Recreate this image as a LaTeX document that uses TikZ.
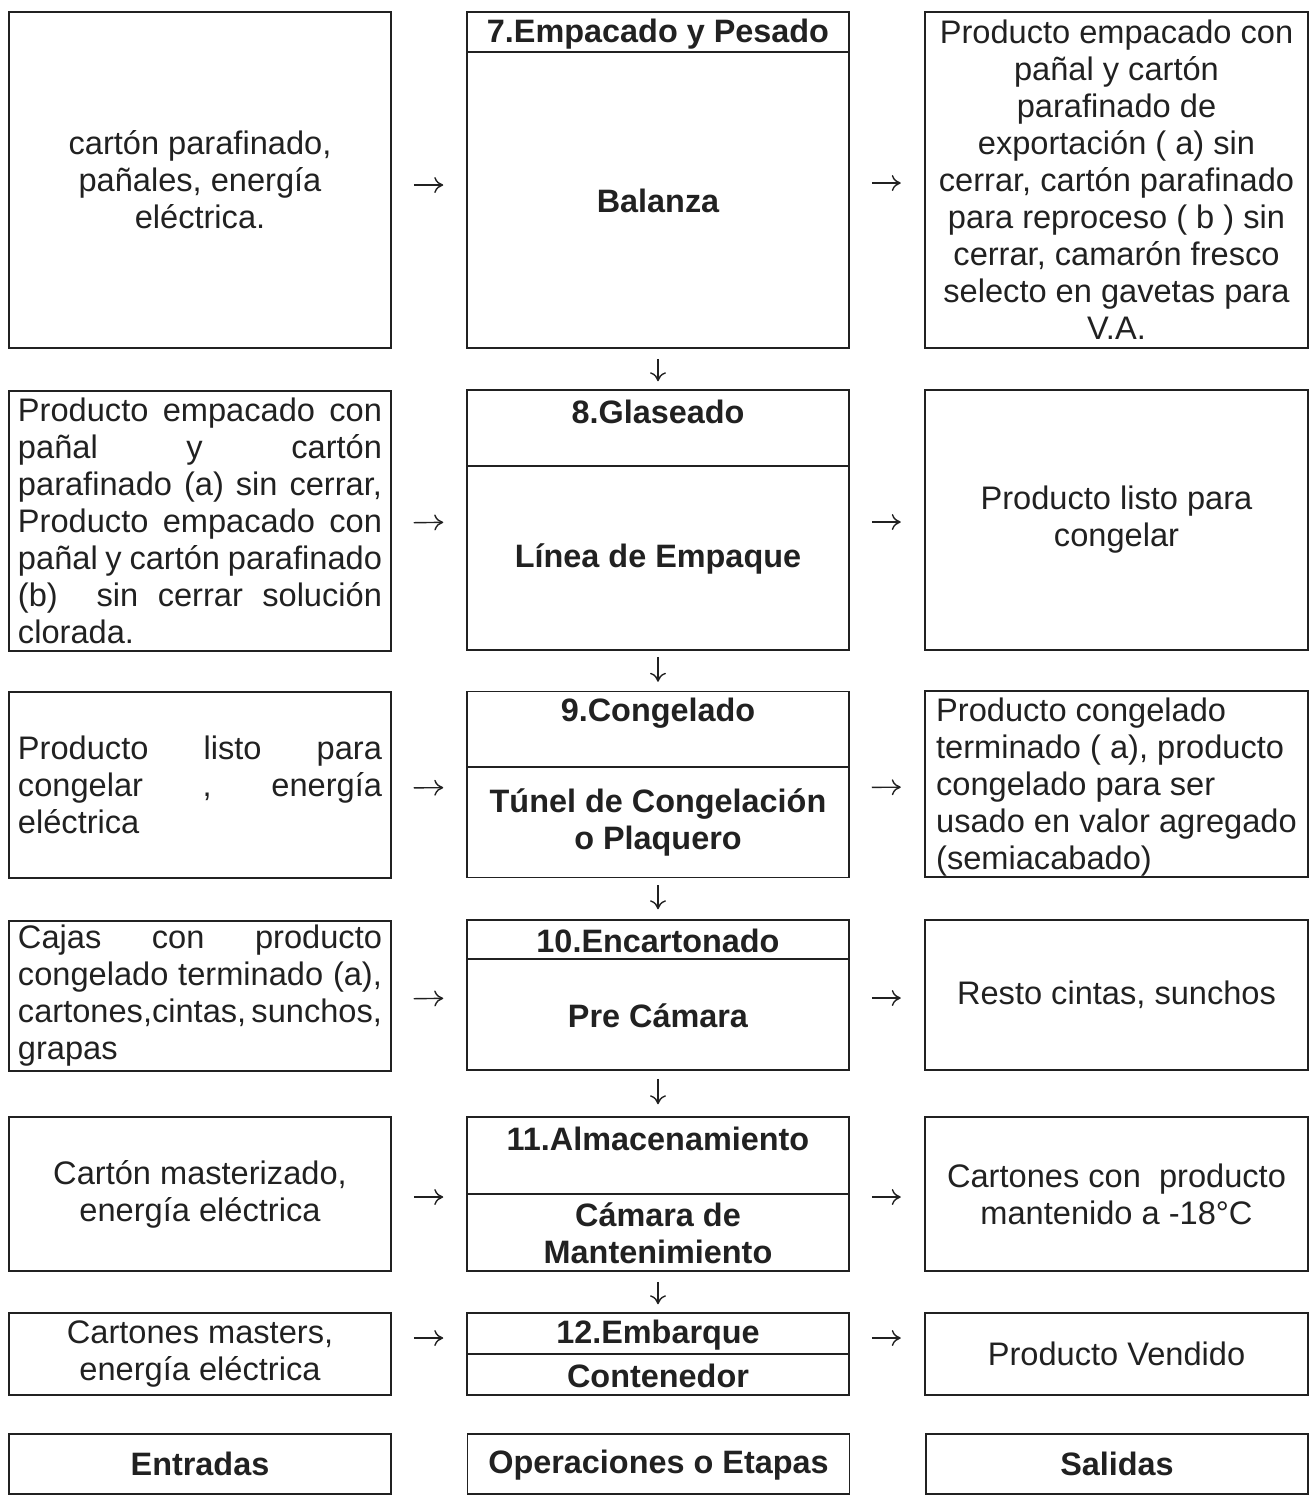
\documentclass[tikz,border=0pt]{standalone}
\usepackage{fontspec}
\setmainfont{Liberation Sans}
\usetikzlibrary{arrows.meta}
\definecolor{ink}{gray}{0.13}
% one fully justified line of the input column
\newcommand\spreadline[1]{\hbox to 182pt{#1}}
\begin{document}
\begin{tikzpicture}[x=0.5pt,y=-0.5pt,
  every node/.style={font=\fontsize{16.3pt}{18.5pt}\selectfont, text=ink},
  inbox/.style={draw=ink, line width=0.75pt, rectangle, inner sep=0pt, minimum width=191pt},
  stagebox/.style={draw=ink, line width=0.75pt, rectangle, inner sep=0pt, minimum width=191pt},
  outbox/.style={draw=ink, line width=1.25pt, rectangle, inner sep=0pt, minimum width=191.5pt},
  ctext/.style={align=center},
  ltext/.style={align=left},
  title/.style={font=\fontsize{16.2pt}{18.5pt}\selectfont\bfseries, align=center, inner sep=0pt},
  harrow/.style={draw=ink, line width=0.7pt, -{Computer Modern Rightarrow[length=4.5pt,width=8pt]},
                 shorten <=11pt, shorten >=11.5pt},
  varrow/.style={draw=ink, line width=0.7pt, -{Computer Modern Rightarrow[length=4.5pt,width=8pt]}}
]
\useasboundingbox (0,0) rectangle (1310,1496);

% ---------- row 1: 7.Empacado y Pesado ----------
\node[inbox, minimum height=168pt, ctext] (l1) at (200,180)
  {cartón parafinado,\\pañales, energía\\eléctrica.};
\node[stagebox, minimum height=168pt] (s1) at (658,180) {};
\draw[ink, line width=0.75pt] (s1.west |- 0,52) -- (s1.east |- 0,52);
\node[title] (t1) at (658,34) {7.Empacado y Pesado};
\node[title] (b1) at (658,201) {Balanza};
\node[outbox, minimum height=168pt, ctext] (r1) at (1116.5,180)
  {Producto empacado con\\pañal y cartón\\parafinado de\\exportación ( a) sin\\cerrar, cartón parafinado\\para reproceso ( b ) sin\\cerrar, camarón fresco\\selecto en gavetas para\\V.A.};

% ---------- row 2: 8.Glaseado ----------
\node[inbox, minimum height=130pt, ltext] (l2) at (200,521)
  {\spreadline{Producto\hfill empacado\hfill con}\\
   \spreadline{pañal\hfill y\hfill cartón}\\
   \spreadline{parafinado\hfill (a)\hfill sin\hfill cerrar,}\\
   \spreadline{Producto\hfill empacado\hfill con}\\
   \spreadline{pañal\hfill y\hfill cartón\hfill parafinado}\\
   \spreadline{(b)\hfill\hfill sin\hfill cerrar\hfill solución}\\
   clorada.};
\node[stagebox, minimum height=130pt] (s2) at (658,520) {};
\draw[ink, line width=0.75pt] (s2.west |- 0,466) -- (s2.east |- 0,466);
\node[title] (t2) at (658,412) {8.Glaseado};
\node[title] (b2) at (658,559) {Línea de Empaque};
\node[outbox, minimum height=130pt, ctext] (r2) at (1116.5,520)
  {Producto listo para\\congelar};

% ---------- row 3: 9.Congelado ----------
\node[inbox, minimum height=93pt, ltext] (l3) at (200,785)
  {\spreadline{Producto\hfill listo\hfill para}\\
   \spreadline{congelar\hfill ,\hfill energía}\\
   eléctrica};
\node[stagebox, minimum height=93pt] (s3) at (658,784.5) {};
\draw[ink, line width=0.75pt] (s3.west |- 0,767) -- (s3.east |- 0,767);
\node[title] (t3) at (658,713) {9.Congelado};
\node[title] (b3) at (658,822) {Túnel de Congelación\\o Plaquero};
\node[outbox, minimum height=93pt] (r3) at (1116.5,784) {};
\node[ltext, inner sep=0pt] (r3t) at (1116.5,787)
  {Producto congelado\\terminado ( a), producto\\congelado para ser\\usado en valor agregado\\(semiacabado)};

% ---------- row 4: 10.Encartonado ----------
\node[inbox, minimum height=75pt, ltext] (l4) at (200,996)
  {\spreadline{Cajas\hfill con\hfill producto}\\
   \spreadline{congelado\hfill terminado\hfill (a),}\\
   \spreadline{cartones,cintas,\hfill sunchos,}\\
   grapas};
\node[stagebox, minimum height=75pt] (s4) at (658,995) {};
\draw[ink, line width=0.75pt] (s4.west |- 0,959) -- (s4.east |- 0,959);
\node[title] (t4) at (658,941) {10.Encartonado};
\node[title] (b4) at (658,1016) {Pre Cámara};
\node[outbox, minimum height=75pt, ctext] (r4) at (1116.5,995)
  {Resto cintas, sunchos};

% ---------- row 5: 11.Almacenamiento ----------
\node[inbox, minimum height=77pt, ctext] (l5) at (200,1194)
  {Cartón masterizado,\\energía eléctrica};
\node[stagebox, minimum height=77pt] (s5) at (658,1194) {};
\draw[ink, line width=0.75pt] (s5.west |- 0,1194) -- (s5.east |- 0,1194);
\node[title] (t5) at (658,1139) {11.Almacenamiento};
\node[title] (b5) at (658,1233) {Cámara de\\Mantenimiento};
\node[outbox, minimum height=77pt, ctext] (r5) at (1116.5,1194)
  {Cartones con\ \ producto\\mantenido a -18°C};

% ---------- row 6: 12.Embarque ----------
\node[inbox, minimum height=41pt, ctext] (l6) at (200,1354)
  {Cartones masters,\\energía eléctrica};
\node[stagebox, minimum height=41pt] (s6) at (658,1354) {};
\draw[ink, line width=0.75pt] (s6.west |- 0,1354) -- (s6.east |- 0,1354);
\node[title] (t6) at (658,1335) {12.Embarque};
\node[title] (b6) at (658,1376) {Contenedor};
\node[outbox, minimum height=41pt, ctext] (r6) at (1116.5,1354)
  {Producto Vendido};

% ---------- column headings ----------
\node[inbox, minimum height=30pt, font=\fontsize{16.2pt}{18.5pt}\selectfont\bfseries] (h1) at (200,1464) {Entradas};
\node[inbox, minimum height=30pt] (h2) at (658.5,1464) {};
\node[title] (h2t) at (658.5,1465) {Operaciones o Etapas};
\node[inbox, minimum height=30pt, font=\fontsize{16.2pt}{18.5pt}\selectfont\bfseries] (h3) at (1117,1464) {Salidas};

% ---------- inputs and outputs ----------
\draw[harrow] ([yshift=-2.5pt]l1.east) -- ([yshift=-2.5pt]s1.west);
\draw[harrow] ([yshift=-1.5pt]s1.east) -- ([yshift=-1.5pt]r1.west);
\draw[harrow] ([yshift=-1pt]l2.east) -- ([yshift=-1pt]s2.west);
\draw[harrow] ([yshift=-1pt]s2.east) -- ([yshift=-1pt]r2.west);
\draw[harrow] ([yshift=-1.5pt]l3.east) -- ([yshift=-1.5pt]s3.west);
\draw[harrow] ([yshift=-1.5pt]s3.east) -- ([yshift=-1.5pt]r3.west);
\draw[harrow] ([yshift=-1.5pt]l4.east) -- ([yshift=-1.5pt]s4.west);
\draw[harrow] ([yshift=-1.5pt]s4.east) -- ([yshift=-1.5pt]r4.west);
\draw[harrow] ([yshift=-1.5pt]l5.east) -- ([yshift=-1.5pt]s5.west);
\draw[harrow] ([yshift=-1.5pt]s5.east) -- ([yshift=-1.5pt]r5.west);
\draw[harrow] ([yshift=8pt]l6.east) -- ([yshift=8pt]s6.west);
\draw[harrow] ([yshift=8pt]s6.east) -- ([yshift=8pt]r6.west);

% ---------- sequence of stages ----------
\draw[varrow, shorten <=5pt, shorten >=4pt] (s1.south) -- (s2.north);
\draw[varrow, shorten <=3pt, shorten >=4.5pt] (s2.south) -- (s3.north);
\draw[varrow, shorten <=3.5pt, shorten >=5pt] (s3.south) -- (s4.north);
\draw[varrow, shorten <=4pt, shorten >=6pt] (s4.south) -- (s5.north);
\draw[varrow, shorten <=5pt, shorten >=4pt] (s5.south) -- (s6.north);
\end{tikzpicture}
\end{document}
